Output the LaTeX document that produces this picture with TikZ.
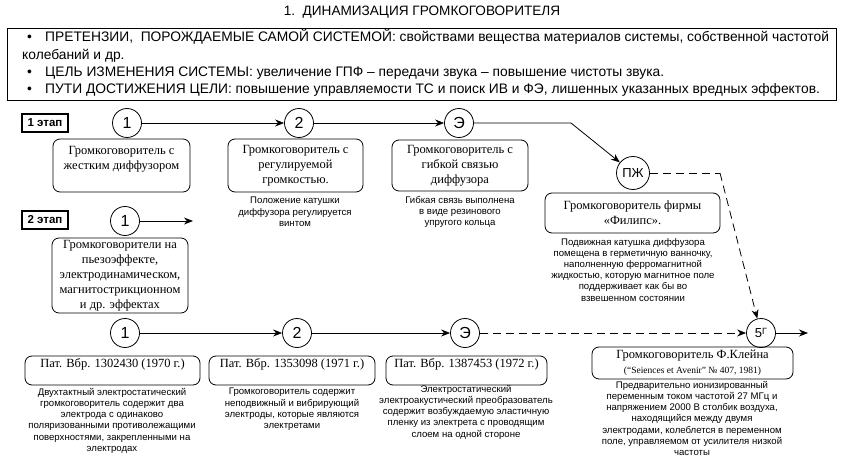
\documentclass[tikz,border=0pt]{standalone}
\usepackage{fontspec}
\setmainfont{Liberation Serif}
\setsansfont{Liberation Sans}
\usetikzlibrary{arrows.meta}

\begin{document}
\begin{tikzpicture}[
    x=1pt, y=-1pt,
    stage/.style={circle, draw, line width=0.8pt, minimum size=29pt, inner sep=0pt, font=\sffamily\fontsize{16}{16}\selectfont},
    smallstage/.style={stage, font=\sffamily\fontsize{13}{13}\selectfont},
    box/.style={draw, line width=0.8pt, rounded corners=7pt, align=center, inner sep=0pt, font=\fontsize{12.5}{15}\selectfont},
    note/.style={align=center, anchor=north, inner sep=0pt, font=\sffamily\fontsize{9.6}{11.2}\selectfont},
    phase/.style={draw, line width=1.2pt, minimum width=46pt, minimum height=18pt, inner sep=0pt, font=\sffamily\bfseries\fontsize{11.5}{11.5}\selectfont},
    goal/.style={anchor=base west, inner sep=0pt, font=\sffamily\fontsize{13.8}{13.8}\selectfont},
    arrow/.style={line width=0.8pt, -{Stealth[length=9pt, width=7pt]}},
    dasharrow/.style={arrow, dash pattern=on 8pt off 5pt},
    dashline/.style={line width=0.8pt, dash pattern=on 8pt off 5pt}
]
    \useasboundingbox (0,0) rectangle (843,457);

    \node[font=\sffamily\fontsize{13.6}{13.6}\selectfont] (title) at (422,12) {1.\ \ ДИНАМИЗАЦИЯ ГРОМКОГОВОРИТЕЛЯ};
    \node[draw, line width=0.8pt, minimum width=829pt, minimum height=72pt, inner sep=0pt] (goals) at (421.5,64) {};
    \node[goal] (g1) at (27,42) {\makebox[18pt][l]{•}ПРЕТЕНЗИИ,\ \ ПОРОЖДАЕМЫЕ САМОЙ СИСТЕМОЙ: свойствами вещества материалов системы, собственной частотой};
    \node[goal] (g1b) at (22,60) {колебаний и др.};
    \node[goal] (g2) at (27,77) {\makebox[18pt][l]{•}ЦЕЛЬ ИЗМЕНЕНИЯ СИСТЕМЫ: увеличение ГПФ -- передачи звука -- повышение чистоты звука.};
    \node[goal] (g3) at (27,94) {\makebox[18pt][l]{•}ПУТИ ДОСТИЖЕНИЯ ЦЕЛИ: повышение управляемости ТС и поиск ИВ и ФЭ, лишенных указанных вредных эффектов.};

    \node[phase] (p1) at (45,123) {1 этап};
    \node[phase] (p2) at (45,220) {2 этап};

    \node[stage] (c11) at (127,123) {1};
    \node[stage] (c12) at (299,123) {2};
    \node[stage] (c1e) at (459,123) {Э};
    \node[smallstage, minimum size=33pt] (cpzh) at (633,173) {ПЖ};
    \node[stage] (c21) at (125,221) {1};
    \node[stage] (c31) at (125,333) {1};
    \node[stage] (c32) at (297,333) {2};
    \node[stage] (c3e) at (465,333) {Э};
    \node[smallstage] (c35) at (761,333) {5\raisebox{3pt}{\fontsize{9}{9}\selectfont Г}};

    \coordinate (bend1) at (571,123);
    \coordinate (bend2) at (720,173);
    \coordinate (end21) at (193,221);
    \coordinate (end35) at (808,333);

    \node[box, minimum width=137pt, minimum height=53pt] (b11) at (121.5,165.5) {Громкоговоритель с\\жестким диффузором\\\mbox{}};
    \node[box, minimum width=135pt, minimum height=53pt] (b12) at (295.5,165.5) {Громкоговоритель с\\регулируемой\\громкостью.};
    \node[box, minimum width=136pt, minimum height=51pt] (b13) at (460,165.5) {Громкоговоритель с\\гибкой связью\\диффузора};
    \node[box, minimum width=175pt, minimum height=40pt] (bpzh) at (632.5,213) {Громкоговоритель фирмы\\«Филипс».};
    \node[box, minimum width=136pt, minimum height=75pt] (b21) at (120,275.5) {Громкоговорители на\\пьезоэффекте,\\электродинамическом,\\магнитострикционном\\и др. эффектах};
    \node[box, minimum width=175pt, minimum height=29pt] (b31) at (112.5,370.5) {Пат. Вбр. 1302430 (1970 г.)\\\mbox{}};
    \node[box, minimum width=166pt, minimum height=29pt] (b32) at (292,370.5) {Пат. Вбр. 1353098 (1971 г.)\\\mbox{}};
    \node[box, minimum width=161pt, minimum height=29pt] (b33) at (466.5,370.5) {Пат. Вбр. 1387453 (1972 г.)\\\mbox{}};
    \node[box, minimum width=201pt, minimum height=32pt] (b35) at (692.5,363) {Громкоговоритель Ф.Клейна\\{\fontsize{9.5}{12}\selectfont (“Seiences et Avenir” №~407, 1981)}};

    \node[note] (n12) at (295,197) {Положение катушки\\диффузора регулируется\\винтом};
    \node[note] (n13) at (460,196) {Гибкая связь выполнена\\в виде резинового\\упругого кольца};
    \node[note] (npzh) at (633,238) {Подвижная катушка диффузора\\помещена в герметичную ванночку,\\наполненную ферромагнитной\\жидкостью, которую магнитное поле\\поддерживает как бы во\\взвешенном состоянии};
    \node[note] (n31) at (112,388) {Двухтактный электростатический\\громкоговоритель содержит два\\электрода с одинаково\\поляризованными противолежащими\\поверхностями, закрепленными на\\электродах};
    \node[note] (n32) at (292,388) {Громкоговоритель содержит\\неподвижный и вибрирующий\\электроды, которые являются\\электретами};
    \node[note] (n33) at (466,385) {Электростатический\\электроакустический преобразователь\\содержит возбуждаемую эластичную\\пленку из электрета с проводящим\\слоем на одной стороне};
    \node[note] (n35) at (692,381) {Предварительно ионизированный\\переменным током частотой 27 МГц и\\напряжением 2000 В столбик воздуха,\\находящийся между двумя\\электродами, колеблется в переменном\\поле, управляемом от усилителя низкой\\частоты};

    \draw[arrow] (c11) -- (c12);
    \draw[arrow] (c12) -- (c1e);
    \draw[arrow] (c1e) -- (bend1) -- (cpzh);
    \draw[dashline] (cpzh) -- (bend2);
    \draw[dasharrow] (bend2) -- (c35);
    \draw[arrow] (c21) -- (end21);
    \draw[arrow] (c31) -- (c32);
    \draw[arrow] (c32) -- (c3e);
    \draw[dasharrow] (c3e) -- (c35);
    \draw[arrow] (c35) -- (end35);
\end{tikzpicture}
\end{document}
